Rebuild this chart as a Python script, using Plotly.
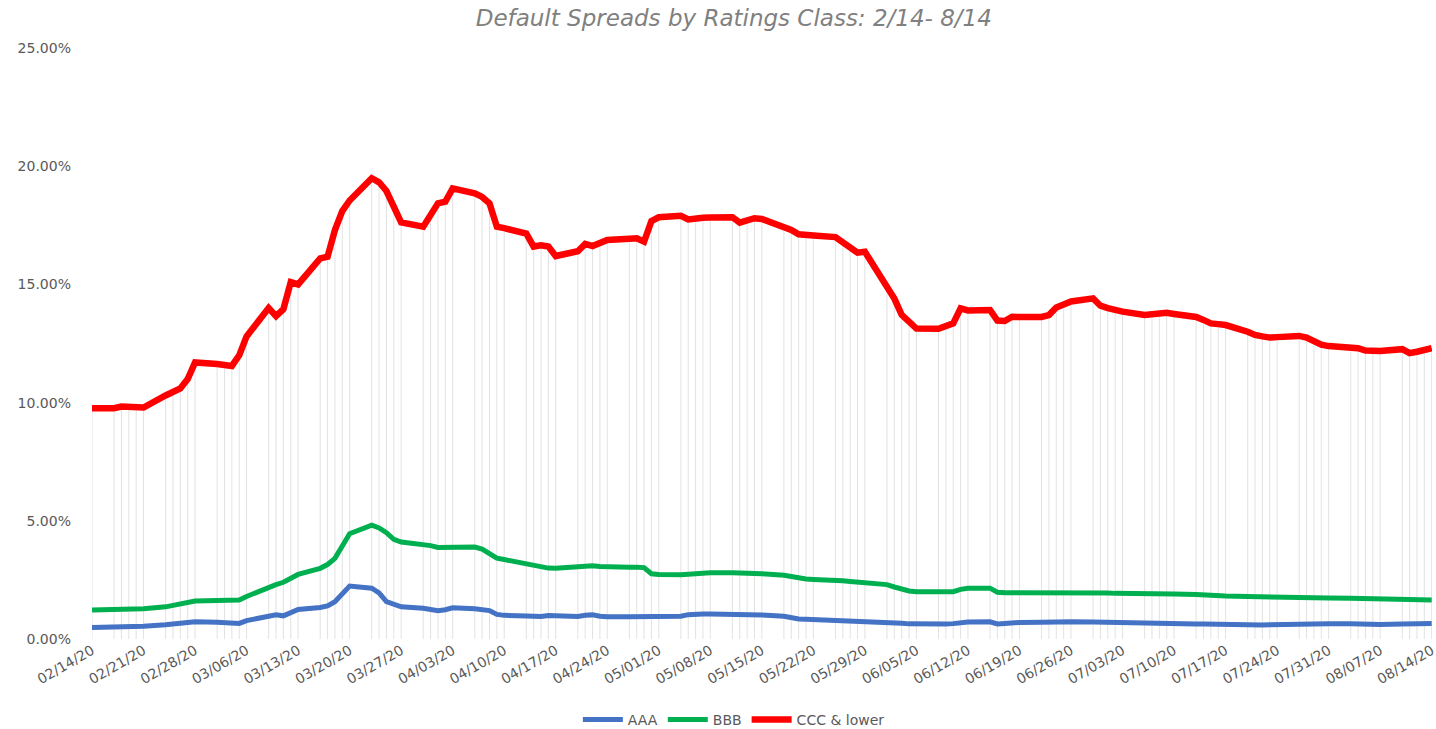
import pandas as pd
import plotly.graph_objects as go

# Trading days covered by the chart
start_date = "2020-02-14"
end_date = "2020-08-14"
dates = pd.bdate_range(start_date, end_date)

series_names = ["AAA", "BBB", "CCC & lower"]

# Default spreads (%), one value per trading day
aaa = [
    0.49,
    0.49, 0.49, 0.50, 0.52, 0.54,
    0.60, 0.63, 0.66, 0.70, 0.73,
    0.71, 0.68, 0.64, 0.66, 0.78,
    0.95, 1.02, 0.98, 1.10, 1.25,
    1.33, 1.40, 1.58, 1.90, 2.24,
    2.15, 1.95, 1.58, 1.45, 1.36,
    1.30, 1.25, 1.20, 1.24, 1.32,
    1.28, 1.23, 1.20, 1.04, 1.00,
    0.97, 0.94, 0.95, 0.99, 0.97,
    0.95, 1.00, 1.02, 0.96, 0.94,
    0.94, 0.94, 0.94, 0.94, 0.94,
    0.96, 1.03, 1.06, 1.06, 1.06,
    1.06, 1.06, 1.06, 1.05, 1.02,
    0.96, 0.88, 0.85, 0.84, 0.83,
    0.81, 0.80, 0.78, 0.76, 0.74,
    0.71, 0.70, 0.67, 0.64, 0.63,
    0.63, 0.63, 0.65, 0.69, 0.72,
    0.73, 0.64, 0.66, 0.69, 0.70,
    0.71, 0.72, 0.73, 0.73, 0.73,
    0.72, 0.71, 0.70, 0.69, 0.68,
    0.66, 0.66, 0.65, 0.65, 0.64,
    0.63, 0.63, 0.62, 0.61, 0.60,
    0.59, 0.59, 0.59, 0.60, 0.61,
    0.62, 0.64, 0.65, 0.65, 0.65,
    0.64, 0.63, 0.61, 0.60, 0.61,
    0.63, 0.65, 0.66, 0.66, 0.66,
]

bbb = [
    1.23,
    1.23, 1.23, 1.24, 1.26, 1.28,
    1.36, 1.42, 1.48, 1.55, 1.61,
    1.63, 1.64, 1.65, 1.65, 1.80,
    2.20, 2.30, 2.40, 2.55, 2.73,
    2.99, 3.15, 3.41, 3.95, 4.45,
    4.82, 4.70, 4.50, 4.22, 4.10,
    4.00, 3.95, 3.87, 3.88, 3.90,
    3.89, 3.80, 3.60, 3.42, 3.36,
    3.20, 3.10, 3.04, 3.00, 2.99,
    3.05, 3.12, 3.10, 3.07, 3.05,
    3.04, 3.03, 3.02, 2.76, 2.73,
    2.72, 2.74, 2.76, 2.78, 2.80,
    2.80, 2.80, 2.78, 2.78, 2.76,
    2.70, 2.64, 2.58, 2.54, 2.52,
    2.50, 2.46, 2.43, 2.40, 2.38,
    2.30, 2.20, 2.10, 2.03, 2.00,
    1.98, 1.98, 2.00, 2.10, 2.15,
    2.15, 1.98, 1.96, 1.96, 1.96,
    1.96, 1.98, 1.99, 2.00, 2.00,
    2.00, 1.98, 1.95, 1.93, 1.92,
    1.90, 1.90, 1.92, 1.91, 1.90,
    1.88, 1.86, 1.85, 1.83, 1.82,
    1.80, 1.79, 1.78, 1.78, 1.78,
    1.77, 1.76, 1.75, 1.74, 1.73,
    1.72, 1.71, 1.70, 1.69, 1.68,
    1.67, 1.66, 1.66, 1.65, 1.65,
]

ccc = [
    9.76,
    9.76, 9.83, 9.80, 9.79, 9.79,
    10.30, 10.45, 10.60, 11.00, 11.70,
    11.63, 11.60, 11.55, 12.00, 12.80,
    14.00, 13.66, 13.95, 15.10, 15.00,
    16.10, 16.17, 17.30, 18.10, 18.55,
    19.49, 19.32, 18.95, 18.20, 17.62,
    17.44, 17.90, 18.43, 18.50, 19.06,
    18.85, 18.70, 18.43, 17.44, 17.38,
    17.15, 16.60, 16.65, 16.60, 16.20,
    16.40, 16.71, 16.62, 16.75, 16.88,
    16.93, 16.95, 16.81, 17.68, 17.84,
    17.90, 17.75, 17.82, 17.82, 17.83,
    17.84, 17.61, 17.70, 17.80, 17.77,
    17.45, 17.30, 17.12, 17.08, 17.07,
    17.00, 16.80, 16.55, 16.34, 16.38,
    14.85, 14.40, 13.71, 13.45, 13.13,
    13.12, 13.25, 13.35, 13.99, 13.90,
    13.92, 13.47, 13.45, 13.63, 13.62,
    13.62, 13.70, 14.02, 14.15, 14.28,
    14.41, 14.10, 14.00, 13.89, 13.85,
    13.71, 13.74, 13.77, 13.80, 13.75,
    13.62, 13.50, 13.35, 13.32, 13.28,
    13.00, 12.86, 12.80, 12.75, 12.77,
    12.82, 12.75, 12.60, 12.45, 12.39,
    12.34, 12.30, 12.20, 12.16, 12.18,
    12.26, 12.09, 12.15, 12.20, 12.30,
]

assert len(dates) == len(aaa) == len(bbb) == len(ccc)

colors = ["#4472C4", "#00B050", "#FF0000"]
widths = [5, 5, 6.5]

TEXT = "#595959"
FONT = "DejaVu Sans"

fig = go.Figure()

# Drop lines from the highest series down to the axis
drop_x, drop_y = [], []
for d, v in zip(dates, ccc):
    drop_x += [d, d, None]
    drop_y += [0, v, None]
fig.add_trace(go.Scatter(
    x=drop_x, y=drop_y, mode="lines",
    line=dict(color="rgba(190,190,190,0.45)", width=1),
    showlegend=False, hoverinfo="skip",
))

for name, vals, col, w in zip(series_names, [aaa, bbb, ccc], colors, widths):
    fig.add_trace(go.Scatter(
        x=dates, y=vals, name=name, mode="lines",
        line=dict(color=col, width=w, shape="linear"),
    ))

fig.update_layout(
    width=1436, height=729,
    margin=dict(l=92, r=4, t=48, b=90, autoexpand=False),
    paper_bgcolor="white", plot_bgcolor="white",
    title=dict(
        text="Default Spreads by Ratings Class: 2/14- 8/14",
        font=dict(family=FONT, size=23, color="#808080", style="italic"),
        x=0.511, xanchor="center", xref="container",
        y=1 - 18 / 729, yanchor="middle", yref="container",
    ),
    legend=dict(
        orientation="h", x=0.479, xanchor="center",
        y=-0.137, yanchor="middle",
        font=dict(family=FONT, size=14, color=TEXT),
        itemwidth=40, bgcolor="rgba(0,0,0,0)",
    ),
    showlegend=True,
)

# A small pad past the last day keeps the final weekly label on the axis
fig.update_xaxes(
    type="date", range=[start_date, end_date + " 01:00"],
    tick0=start_date, dtick=7 * 24 * 3600 * 1000, tickformat="%m/%d/%y",
    tickangle=-30, ticklabeloverflow="allow",
    showgrid=False, zeroline=False, showline=False, ticks="",
    tickfont=dict(family=FONT, size=14, color=TEXT),
)
fig.update_yaxes(
    range=[0, 25], dtick=5, tickformat=".2f", ticksuffix="%",
    showgrid=False, zeroline=False, showline=False, ticks="",
    ticklabelstandoff=20,
    tickfont=dict(family=FONT, size=14, color=TEXT),
)

fig.write_html("out.html")
